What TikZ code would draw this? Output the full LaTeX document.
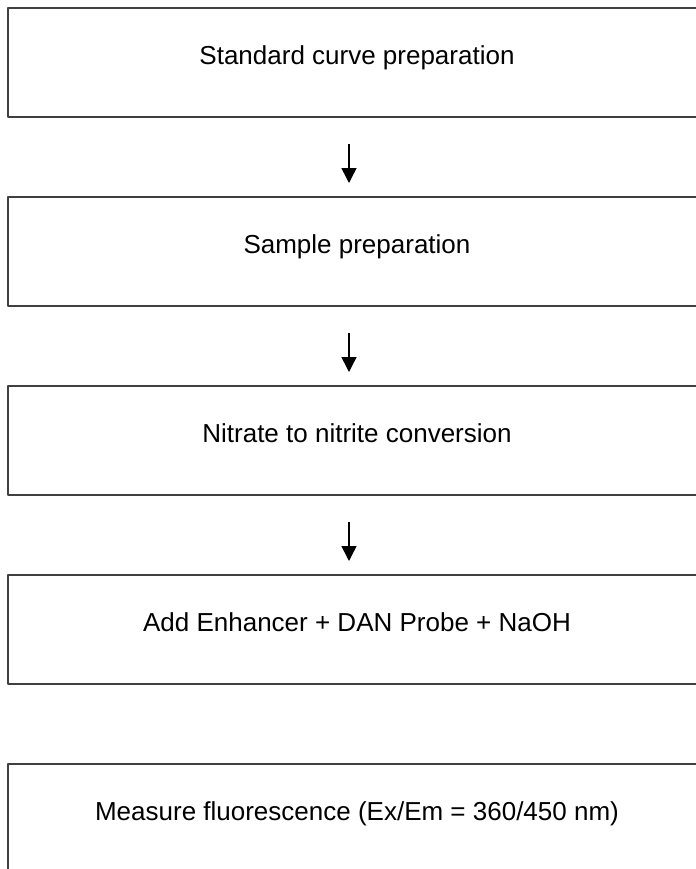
\documentclass[tikz,border=0pt]{standalone}
\usepackage{fontspec}
\setmainfont{Liberation Sans}
\usetikzlibrary{positioning,arrows.meta}

\begin{document}
\begin{tikzpicture}[line join=round,>={Triangle[length=7.5pt,width=7.5pt]},x=1pt,y=1pt,node distance=39pt]
	\tikzset{stepbox/.style={draw=black!75,line width=1pt,minimum width=349pt,minimum height=54.5pt,inner sep=0pt,text height=9.3pt,text depth=7.8pt,font=\fontsize{13}{15}\selectfont},
		flow/.style={->,line width=0.75pt,shorten <=13pt,shorten >=6.5pt}}
	\clip (0,0) rectangle (348,-434.5);
	\node[stepbox] (curve) at (178.5,-31.25) {Standard curve preparation};
	\node[stepbox,below=of curve] (sample) {Sample preparation};
	\node[stepbox,below=of sample] (convert) {Nitrate to nitrite conversion};
	\node[stepbox,below=of convert] (probe) {Add Enhancer + DAN Probe + NaOH};
	\node[stepbox,below=of probe] (measure) {Measure fluorescence (Ex/Em = 360/450 nm)};
	\foreach \a/\b in {curve/sample,sample/convert,convert/probe}
	\draw[flow] ([xshift=-4pt]\a.south) -- ([xshift=-4pt]\b.north);
\end{tikzpicture}
\end{document}
